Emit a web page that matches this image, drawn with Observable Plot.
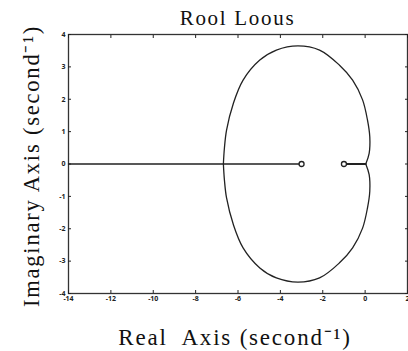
<!DOCTYPE html>
<html>
<head>
<meta charset="utf-8">
<script src="https://cdn.jsdelivr.net/npm/d3@7"></script>
<script src="https://cdn.jsdelivr.net/npm/@observablehq/plot@0.6"></script>
<style>
  html, body { margin: 0; padding: 0; background: #fff; }
  #wrap { width: 408px; height: 351px; overflow: hidden; background: #fff; }
  #title { height: 30px; width: 341px; margin-left: 67px; text-align: center;
           font-family: "Liberation Serif", serif; font-size: 21px; line-height: 21px;
           letter-spacing: 1.7px; padding-top: 8px; box-sizing: border-box; color: #111; }
  #chart svg { overflow: visible; }
</style>
</head>
<body>
<div id="wrap">
  <div id="title">Rool Loous</div>
  <div id="chart"></div>
</div>
<script>
// Upper branch of the root-locus loop (real part, imaginary part)
const loopRe = [-6.69, -6.64, -6.54, -6.22, -5.76, -4.97, -4.19, -3.17, -2.15, -1.22, -0.59, -0.12, 0.11, 0.22, 0.19, 0.03];
const loopIm = [0.00, 0.50, 1.05, 1.87, 2.59, 3.21, 3.52, 3.65, 3.52, 3.06, 2.59, 1.98, 1.36, 0.84, 0.33, 0.00];
// Real-axis segments of the locus
const segLeftRe = [-14, -3];
const segRightRe = [-1, 0.03];
// Open-loop zeros
const zerosRe = [-3, -1];
// Tick values
const xTicks = [-14, -12, -10, -8, -6, -4, -2, 0, 2];
const yTicks = [-4, -3, -2, -1, 0, 1, 2, 3, 4];

const upper = loopRe.map((re, i) => ({re, im: loopIm[i]}));
const lower = loopRe.map((re, i) => ({re, im: -loopIm[i]}));
const loop = upper.concat(lower.slice().reverse());
const segLeft = segLeftRe.map(re => ({re, im: 0}));
const segRight = segRightRe.map(re => ({re, im: 0}));
const zeros = zerosRe.map(re => ({re, im: 0}));

const ink = "#222";
const chart = Plot.plot({
  width: 408,
  height: 321,
  marginTop: 4,
  marginBottom: 58,
  marginLeft: 68,
  marginRight: 1,
  style: {background: "transparent", color: ink, overflow: "visible"},
  x: {domain: [-14, 2]},
  y: {domain: [-4, 4]},
  marks: [
    Plot.frame({stroke: "#333", strokeWidth: 1.3}),
    Plot.axisX({ticks: xTicks, tickSize: -3, tickPadding: 6, fontSize: 7, fontWeight: "bold", label: null, tickFormat: d => d}),
    Plot.axisX({anchor: "top", ticks: xTicks, tickSize: -3, label: null, tickFormat: () => ""}),
    Plot.axisY({ticks: yTicks, tickSize: -3, tickPadding: 6, fontSize: 7, fontWeight: "bold", label: null, tickFormat: d => d}),
    Plot.axisY({anchor: "right", ticks: yTicks, tickSize: -3, label: null, tickFormat: () => ""}),
    Plot.line(segLeft, {x: "re", y: "im", stroke: ink, strokeWidth: 1.3}),
    Plot.line(segRight, {x: "re", y: "im", stroke: ink, strokeWidth: 2}),
    Plot.line(loop, {x: "re", y: "im", stroke: ink, strokeWidth: 1.3, curve: "catmull-rom"}),
    Plot.dot(zeros, {x: "re", y: "im", r: 2.5, stroke: ink, strokeWidth: 1.3, fill: "white"}),
    Plot.text(["Real  Axis (second⁻¹)"], {frameAnchor: "bottom", dx: -3, dy: 51, fontSize: 23, fontFamily: "Liberation Serif", fill: "#111", className: "axlabel"}),
    Plot.text(["Imaginary Axis (second⁻¹)"], {frameAnchor: "left", textAnchor: "middle", rotate: -90, dx: -37, dy: 2, fontSize: 22.5, fontFamily: "Liberation Serif", fill: "#111", className: "axlabel"})
  ]
});
d3.select(chart).selectAll(".axlabel text").style("letter-spacing", "1.8px");
document.getElementById("chart").appendChild(chart);
</script>
</body>
</html>
